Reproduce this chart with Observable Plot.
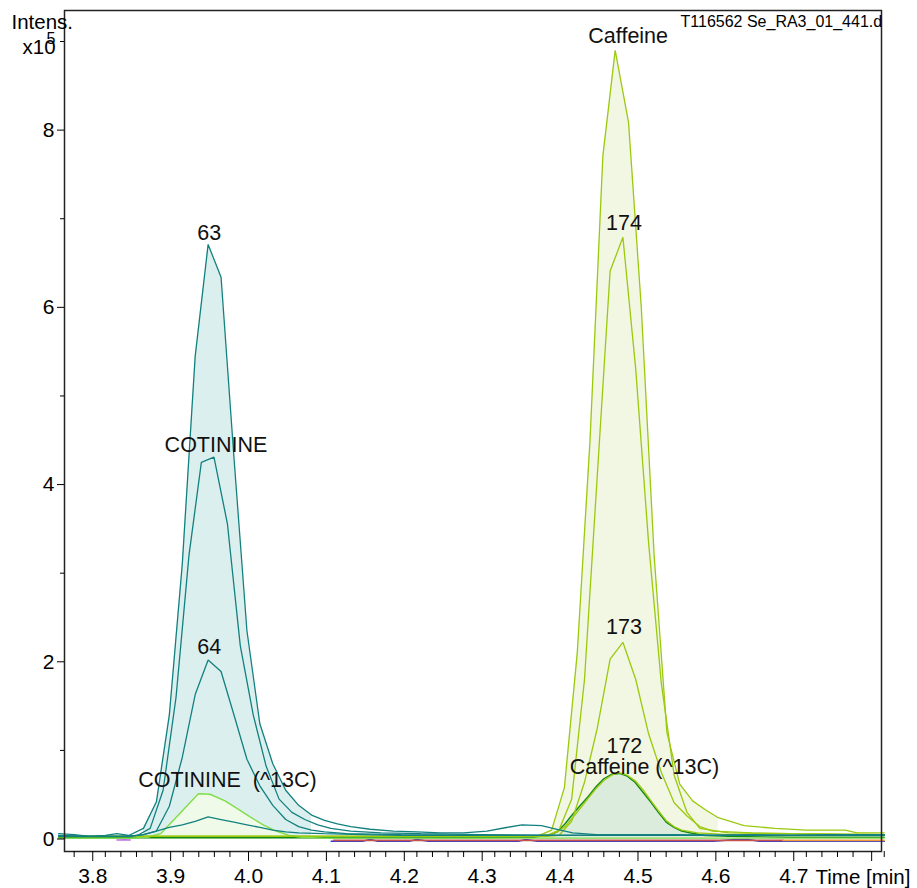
<!DOCTYPE html>
<html>
<head>
<meta charset="utf-8">
<script src="https://cdn.jsdelivr.net/npm/d3@7"></script>
<script src="https://cdn.jsdelivr.net/npm/@observablehq/plot@0.6"></script>
<style>
  html, body { margin: 0; padding: 0; background: #fff; }
  #chart { width: 917px; height: 888px; }
</style>
</head>
<body>
<div id="chart"></div>
<script>
// ---------------- data (time in min, intensity in 10^5) ----------------
const title = "T116562 Se_RA3_01_441.d";
const xMajorTicks = [3.8, 3.9, 4.0, 4.1, 4.2, 4.3, 4.4, 4.5, 4.6, 4.7, 4.8];
const yMajorTicks = [0, 2, 4, 6, 8];
const yMinorTicks = [1, 3, 5, 7, 9];

// Cotinine traces
const t63 = [3.76, 3.78, 3.80, 3.82, 3.835, 3.85, 3.869, 3.8856, 3.9022, 3.9188, 3.9354, 3.952, 3.9686, 3.9852, 4.0018, 4.0184, 4.035, 4.0516, 4.0682, 4.0848, 4.1014, 4.118, 4.135, 4.16, 4.19, 4.22, 4.25, 4.28, 4.31, 4.335, 4.355, 4.38, 4.40, 4.42, 4.45, 4.50, 4.55, 4.60, 4.65, 4.70, 4.75, 4.82];
const v63 = [0.06, 0.05, 0.03, 0.04, 0.06, 0.04, 0.12, 0.42, 1.4, 3.1, 5.45, 6.71, 6.34, 4.3, 2.35, 1.3, 0.85, 0.55, 0.38, 0.27, 0.21, 0.17, 0.14, 0.11, 0.09, 0.08, 0.07, 0.07, 0.09, 0.13, 0.16, 0.15, 0.11, 0.07, 0.05, 0.05, 0.05, 0.04, 0.05, 0.04, 0.05, 0.05];

const tCot = [3.76, 3.80, 3.84, 3.861, 3.8776, 3.8942, 3.9108, 3.9274, 3.9433, 3.9595, 3.9767, 3.9933, 4.0099, 4.0265, 4.0431, 4.0596, 4.0761, 4.0928, 4.1095, 4.135, 4.174, 4.225, 4.30, 4.40, 4.50, 4.60, 4.70, 4.82];
const vCot = [0.04, 0.03, 0.03, 0.04, 0.12, 0.55, 1.6, 3.2, 4.25, 4.31, 3.56, 2.18, 1.4, 0.82, 0.45, 0.3, 0.22, 0.16, 0.12, 0.09, 0.07, 0.06, 0.05, 0.04, 0.04, 0.04, 0.04, 0.04];

const t64 = [3.76, 3.80, 3.85, 3.869, 3.8856, 3.9022, 3.9188, 3.9354, 3.952, 3.9686, 3.9852, 4.0018, 4.0184, 4.035, 4.0516, 4.0682, 4.0848, 4.1014, 4.13, 4.2, 4.3, 4.45, 4.6, 4.82];
const v64 = [0.03, 0.03, 0.03, 0.05, 0.09, 0.37, 0.92, 1.63, 2.02, 1.89, 1.4, 0.9, 0.6, 0.38, 0.22, 0.14, 0.1, 0.08, 0.06, 0.05, 0.04, 0.04, 0.04, 0.04];

const tCotMinor = [3.76, 3.82, 3.85, 3.869, 3.8856, 3.9022, 3.9188, 3.9354, 3.952, 3.9686, 3.9852, 4.0018, 4.0184, 4.035, 4.0516, 4.0682, 4.10, 4.15, 4.20, 4.30, 4.45, 4.60, 4.82];
const vCotMinor = [0.03, 0.03, 0.03, 0.05, 0.09, 0.13, 0.16, 0.2, 0.25, 0.22, 0.19, 0.16, 0.13, 0.1, 0.08, 0.07, 0.06, 0.05, 0.04, 0.04, 0.04, 0.04, 0.04];

const tCot13C = [3.76, 3.85, 3.8745, 3.891, 3.9395, 3.9544, 3.9737, 3.99, 4.0059, 4.0226, 4.0392, 4.0558, 4.072, 4.10, 4.82];
const vCot13C = [0.01, 0.01, 0.02, 0.06, 0.51, 0.505, 0.43, 0.34, 0.25, 0.16, 0.09, 0.04, 0.02, 0.01, 0.01];

// Caffeine traces
const tCaf = [3.76, 3.90, 4.10, 4.30, 4.36, 4.377, 4.393, 4.4094, 4.4259, 4.4423, 4.4588, 4.4746, 4.4917, 4.5081, 4.5246, 4.541, 4.5575, 4.574, 4.5904, 4.6069, 4.64, 4.68, 4.72, 4.77, 4.785, 4.82];
const vCaf = [0.03, 0.03, 0.03, 0.03, 0.03, 0.04, 0.1, 0.58, 2.1, 4.5, 7.71, 8.9, 8.09, 6.0, 3.2, 1.2, 0.62, 0.43, 0.33, 0.24, 0.15, 0.12, 0.1, 0.1, 0.07, 0.07];

const t174 = [3.76, 4.30, 4.385, 4.4023, 4.4187, 4.4352, 4.4516, 4.4681, 4.4845, 4.501, 4.5174, 4.5339, 4.5503, 4.5668, 4.5832, 4.62, 4.70, 4.82];
const v174 = [0.03, 0.03, 0.03, 0.1, 0.45, 1.8, 4.1, 6.41, 6.79, 5.3, 3.35, 1.75, 0.72, 0.3, 0.12, 0.07, 0.06, 0.05];

const t173 = [3.76, 4.30, 4.385, 4.4023, 4.4187, 4.4352, 4.4516, 4.4681, 4.4845, 4.501, 4.5174, 4.5339, 4.5503, 4.5668, 4.5832, 4.5997, 4.65, 4.70, 4.82];
const v173 = [0.03, 0.03, 0.03, 0.04, 0.2, 0.64, 1.25, 2.03, 2.22, 1.8, 1.19, 0.75, 0.41, 0.26, 0.14, 0.09, 0.07, 0.06, 0.05];

const t172 = [3.76, 4.10, 4.30, 4.37, 4.39, 4.40, 4.41, 4.42, 4.43, 4.44, 4.45, 4.46, 4.47, 4.48, 4.49, 4.50, 4.51, 4.52, 4.53, 4.54, 4.55, 4.56, 4.58, 4.62, 4.70, 4.82];
const v172 = [0.03, 0.03, 0.03, 0.03, 0.05, 0.08, 0.14, 0.24, 0.35, 0.46, 0.57, 0.66, 0.72, 0.75, 0.72, 0.66, 0.56, 0.44, 0.32, 0.21, 0.14, 0.1, 0.07, 0.05, 0.04, 0.04];

const tCaf13C = [3.76, 4.10, 4.30, 4.37, 4.38, 4.39, 4.40, 4.41, 4.42, 4.43, 4.44, 4.45, 4.46, 4.47, 4.48, 4.49, 4.50, 4.51, 4.52, 4.53, 4.54, 4.55, 4.56, 4.57, 4.59, 4.62, 4.70, 4.82];
const vCaf13C = [0.015, 0.015, 0.015, 0.02, 0.03, 0.04, 0.08, 0.17, 0.28, 0.38, 0.48, 0.59, 0.68, 0.73, 0.74, 0.71, 0.64, 0.53, 0.42, 0.3, 0.19, 0.13, 0.09, 0.07, 0.04, 0.03, 0.02, 0.02];

// Other traces sitting on the baseline
const tBlue = [4.11, 4.15, 4.16, 4.17, 4.21, 4.22, 4.235, 4.30, 4.35, 4.36, 4.375, 4.60, 4.63, 4.645, 4.66, 4.82];
const vBlue = [-0.025, -0.025, -0.005, -0.025, -0.025, -0.005, -0.025, -0.025, -0.025, -0.005, -0.025, -0.025, -0.005, -0.005, -0.025, -0.025];
const tRed = [4.113, 4.30, 4.50, 4.69];
const vRed = [-0.015, -0.015, -0.015, -0.015];
const tOrange = [4.69, 4.75, 4.82];
const vOrange = [-0.015, -0.015, -0.015];
const tPurple = [3.835, 3.845, 3.852];
const vPurple = [-0.012, -0.008, -0.012];

// peak labels
const peakLabels = ["63", "COTININE", "64", "COTININE  (^13C)", "Caffeine", "174", "173", "172", "Caffeine (^13C)"];

// ---------------- styling ----------------
const TEAL = "#12807f", YG = "#9bc90e", LG = "#7fdd48", DG = "#138a13";
const series = [
  {name: "blue", t: tBlue, v: vBlue, stroke: "#2a3ed8", w: 1.6},
  {name: "red", t: tRed, v: vRed, stroke: "#c8524a", w: 1.6},
  {name: "orange", t: tOrange, v: vOrange, stroke: "#f29a38", w: 1.6},
  {name: "purple", t: tPurple, v: vPurple, stroke: "#c070e0", w: 1.6},
  {name: "Caffeine (^13C)", t: tCaf13C, v: vCaf13C, stroke: DG, w: 1.4},
  {name: "COTININE  (^13C)", t: tCot13C, v: vCot13C, stroke: LG, w: 1.4},
  {name: "172", t: t172, v: v172, stroke: YG, w: 1.3},
  {name: "173", t: t173, v: v173, stroke: YG, w: 1.3},
  {name: "174", t: t174, v: v174, stroke: YG, w: 1.3},
  {name: "Caffeine", t: tCaf, v: vCaf, stroke: YG, w: 1.3},
  {name: "minor", t: tCotMinor, v: vCotMinor, stroke: TEAL, w: 1.3},
  {name: "64", t: t64, v: v64, stroke: TEAL, w: 1.3},
  {name: "COTININE", t: tCot, v: vCot, stroke: TEAL, w: 1.3},
  {name: "63", t: t63, v: v63, stroke: TEAL, w: 1.3}
];
const rowsOf = s => s.t.map((t, i) => ({series: s.name, t, v: s.v[i]}));
const byName = Object.fromEntries(series.map(s => [s.name, rowsOf(s)]));

const fills = [
  {name: "63", from: 3.855, to: 4.10, fill: "#dcefef"},
  {name: "Caffeine", from: 4.377, to: 4.62, fill: "#f1f7e2"},
  {name: "COTININE  (^13C)", from: 3.87, to: 4.08, fill: "#effbe8"},
  {name: "Caffeine (^13C)", from: 4.38, to: 4.60, fill: "#dcecdc"}
];

// label offsets (px) from each trace's apex
const labelOffsets = {
  "63": [1, -4], "COTININE": [2, -5], "64": [1, -6], "COTININE  (^13C)": [29, -7],
  "Caffeine": [13, -7], "174": [1, -7], "173": [1, -8], "172": [5, -20], "Caffeine (^13C)": [25, 1]
};

const FONT = "'Liberation Sans', Arial, Helvetica, sans-serif";
const xMinorTicks = d3.range(3.78, 4.82, 0.02).map(d => +d.toFixed(2)).filter(d => Math.abs(d * 10 - Math.round(d * 10)) > 1e-6);

const marks = [];
for (const f of fills) {
  marks.push(Plot.areaY(byName[f.name].filter(d => d.t >= f.from && d.t <= f.to), {x: "t", y: "v", fill: f.fill}));
}
for (const s of series) {
  marks.push(Plot.lineY(byName[s.name], {x: "t", y: "v", stroke: s.stroke, strokeWidth: s.w, strokeLinejoin: "miter"}));
}
for (const name of peakLabels) {
  const rows = byName[name];
  const apex = rows.reduce((a, b) => (b.v > a.v ? b : a));
  const [dx, dy] = labelOffsets[name];
  marks.push(Plot.text([apex], {x: "t", y: "v", text: () => name, dx, dy, lineAnchor: "bottom", textAnchor: "middle", fontSize: 21.5, fill: "#111"}));
}
marks.push(
  Plot.frame({stroke: "#222", strokeWidth: 1.5}),
  Plot.axisX({ticks: xMinorTicks, tickSize: 6, tickFormat: () => "", label: null}),
  Plot.axisX({ticks: xMajorTicks, tickSize: 10, tickPadding: 7, fontSize: 21, dx: 3, label: null,
    tickFormat: d => (d > 4.75 ? "" : d.toFixed(1))}),
  Plot.axisY({ticks: yMinorTicks, tickSize: 4, tickFormat: () => "", label: null}),
  Plot.axisY({ticks: yMajorTicks, tickSize: 7, tickPadding: 3, fontSize: 21, label: null, tickFormat: d => String(d)}),
  Plot.text(["Intens."], {frameAnchor: "top-left", text: d => d, dx: -53, dy: 18, textAnchor: "start", lineAnchor: "bottom", fontSize: 20.5}),
  Plot.text(["x10"], {frameAnchor: "top-left", text: d => d, dx: -42, dy: 43, textAnchor: "start", lineAnchor: "bottom", fontSize: 20.5}),
  Plot.text(["5"], {frameAnchor: "top-left", text: d => d, dx: -18, dy: 33.5, textAnchor: "start", lineAnchor: "bottom", fontSize: 16}),
  Plot.text([title], {frameAnchor: "top-right", text: d => d, dx: -201, dy: 16.5, textAnchor: "start", lineAnchor: "bottom", fontSize: 16}),
  Plot.text(["Time [min]"], {frameAnchor: "bottom-right", text: d => d, dx: -66, dy: 32, textAnchor: "start", lineAnchor: "bottom", fontSize: 20.5})
);

const chart = Plot.plot({
  width: 917,
  height: 888,
  marginTop: 10,
  marginRight: 36,
  marginBottom: 37,
  marginLeft: 64,
  style: {fontFamily: FONT, background: "#fff", color: "#000", overflow: "visible"},
  x: {domain: [3.7676, 4.8165], label: null},
  y: {domain: [-0.141, 9.35], label: null},
  marks
});
document.getElementById("chart").appendChild(chart);
</script>
</body>
</html>
